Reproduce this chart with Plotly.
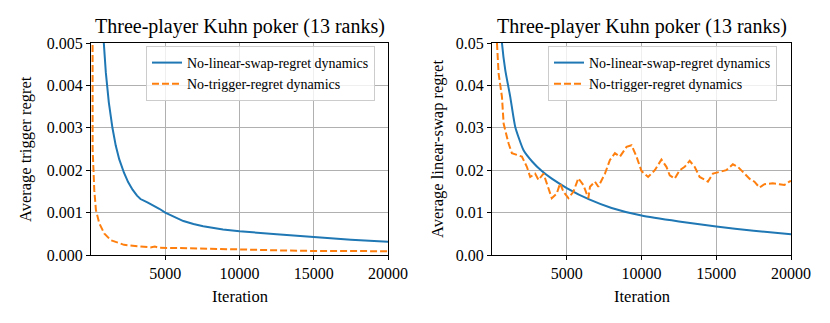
import plotly.graph_objects as go

# ---- data ----
left_blue_x = [1, 200, 400, 600, 700, 844, 1000, 1200, 1444, 1667, 1900, 2222, 2500, 2800, 3100, 3333, 3800, 4222, 4600, 5000, 5600, 6222, 6900, 7556, 8889, 10000, 12500, 15000, 17500, 20000]
left_blue_y = [0.06, 0.021, 0.0107, 0.0072, 0.0061, 0.0051, 0.0043, 0.0036, 0.003, 0.00258, 0.00226, 0.00194, 0.00172, 0.00154, 0.0014, 0.00132, 0.00124, 0.00117, 0.00109, 0.001, 0.0009, 0.0008, 0.00073, 0.00068, 0.0006, 0.00056, 0.00049, 0.00042, 0.00036, 0.00031]

left_orange_x = [1, 60, 90, 111, 222, 333, 556, 889, 1333, 2222, 3333, 4000, 4300, 4600, 6667, 8500, 10000, 12500, 15000, 17500, 20000]
left_orange_y = [0.1, 0.012, 0.006, 0.0025, 0.00153, 0.00106, 0.00075, 0.00051, 0.00035, 0.00024, 0.0002, 0.00018, 0.0002, 0.00017, 0.00016, 0.00014, 0.00012, 0.00011, 0.000095, 0.00009, 0.00009]

right_blue_x = [1, 300, 500, 667, 889, 1222, 1556, 2111, 2700, 3333, 4000, 5000, 6500, 8000, 10000, 12500, 15000, 17500, 20000]
right_blue_y = [0.3, 0.09, 0.06, 0.05, 0.0436, 0.0373, 0.0302, 0.0247, 0.022, 0.0198, 0.018, 0.0158, 0.0131, 0.0111, 0.0093, 0.0079, 0.0067, 0.0057, 0.0049]

right_orange_x = [1, 200, 333, 444, 667, 778, 889, 1111, 1333, 1667, 2000, 2333, 2556, 2889, 3111, 3444, 3667, 4000, 4333, 4556, 4778, 5111, 5444, 5778, 6111, 6444, 6556, 6889, 7111, 7556, 7889, 8222, 8556, 9000, 9333, 9667, 10000, 10444, 10889, 11333, 11667, 11889, 12222, 12556, 12889, 13222, 13556, 13889, 14222, 14444, 14778, 15222, 15667, 16111, 16444, 16778, 17222, 17556, 17889, 18222, 18778, 19222, 19556, 19889, 20000]
right_orange_y = [0.3, 0.08, 0.05, 0.0428, 0.0373, 0.031, 0.0294, 0.0263, 0.024, 0.0236, 0.0232, 0.0208, 0.0184, 0.0192, 0.0177, 0.0192, 0.0169, 0.0134, 0.0145, 0.0169, 0.0149, 0.0134, 0.0149, 0.0181, 0.0165, 0.0134, 0.0161, 0.0173, 0.0161, 0.0192, 0.0224, 0.024, 0.0232, 0.0255, 0.0259, 0.0232, 0.0198, 0.0184, 0.02, 0.0225, 0.0208, 0.0188, 0.018, 0.02, 0.0208, 0.0222, 0.0208, 0.0184, 0.0178, 0.0173, 0.0192, 0.0196, 0.02, 0.0214, 0.0208, 0.0196, 0.018, 0.0173, 0.0159, 0.0167, 0.0169, 0.0167, 0.0165, 0.0173, 0.0175]

series_names = ["No-linear-swap-regret dynamics", "No-trigger-regret dynamics"]
title_text = "Three-player Kuhn poker (13 ranks)"
x_title = "Iteration"
y_titles = ["Average trigger regret", "Average linear-swap regret"]
x_ticks = [5000, 10000, 15000, 20000]
x_tick_text = ["5000", "10000", "15000", "20000"]
left_y_ticks = [0.0, 0.001, 0.002, 0.003, 0.004, 0.005]
right_y_ticks = [0.0, 0.01, 0.02, 0.03, 0.04, 0.05]

BLUE = "#1f77b4"
ORANGE = "#ff7f0e"
FONT = "Liberation Serif, Times New Roman, Times, serif"
W, H = 830, 323

fig = go.Figure()
fig.add_trace(go.Scatter(x=left_blue_x, y=left_blue_y, mode="lines", name=series_names[0],
                         line=dict(color=BLUE, width=2), xaxis="x", yaxis="y", legend="legend"))
fig.add_trace(go.Scatter(x=left_orange_x, y=left_orange_y, mode="lines", name=series_names[1],
                         line=dict(color=ORANGE, width=2, dash="7px,3px"), xaxis="x", yaxis="y", legend="legend"))
fig.add_trace(go.Scatter(x=right_blue_x, y=right_blue_y, mode="lines", name=series_names[0],
                         line=dict(color=BLUE, width=2, shape="spline", smoothing=0.5), xaxis="x2", yaxis="y2", legend="legend2"))
fig.add_trace(go.Scatter(x=right_orange_x, y=right_orange_y, mode="lines", name=series_names[1],
                         line=dict(color=ORANGE, width=2, dash="7px,3px"), xaxis="x2", yaxis="y2", legend="legend2"))

def px_x(p):
    return p / W

def px_y(p):
    return 1 - p / H

ydom = [px_y(255), px_y(43)]
axis_common = dict(showgrid=True, gridcolor="#b0b0b0", gridwidth=1, showline=True, linecolor="black",
                   linewidth=1.2, mirror=True, ticks="outside", ticklen=4, tickcolor="black",
                   tickfont=dict(family=FONT, size=16, color="black"), zeroline=False, automargin=False)

legend_common = dict(xanchor="left", yanchor="top", bgcolor="rgba(255,255,255,0.8)",
                     bordercolor="#cccccc", borderwidth=1, font=dict(family=FONT, size=14, color="black"),
                     tracegroupgap=0, itemwidth=30)

fig.update_layout(
    width=W, height=H, margin=dict(l=0, r=0, t=0, b=0, pad=0, autoexpand=False),
    paper_bgcolor="white", plot_bgcolor="white",
    font=dict(family=FONT, color="black"),
    xaxis=dict(domain=[px_x(91), px_x(388)], range=[1, 20000], tickvals=x_ticks, ticktext=x_tick_text, anchor="y", **axis_common),
    yaxis=dict(domain=ydom, range=[0, 0.005], tickvals=left_y_ticks, tickformat=".3f", anchor="x", **axis_common),
    xaxis2=dict(domain=[px_x(492), px_x(791)], range=[1, 20000], tickvals=x_ticks, ticktext=x_tick_text, anchor="y2", **axis_common),
    yaxis2=dict(domain=ydom, range=[0, 0.05], tickvals=right_y_ticks, tickformat=".2f", anchor="x2", **axis_common),
    legend=dict(x=px_x(146), y=px_y(46), **legend_common),
    legend2=dict(x=px_x(548), y=px_y(46), **legend_common),
    showlegend=True,
)

anns = []
for cx in [(91 + 388) / 2, (492 + 791) / 2]:
    anns.append(dict(text=title_text, x=px_x(cx), y=px_y(27), xref="paper", yref="paper",
                     xanchor="center", yanchor="middle", showarrow=False,
                     font=dict(family=FONT, size=20, color="black")))
    anns.append(dict(text=x_title, x=px_x(cx), y=px_y(296), xref="paper", yref="paper",
                     xanchor="center", yanchor="middle", showarrow=False,
                     font=dict(family=FONT, size=16.5, color="black")))
for cx, t in zip([25, 437], y_titles):
    anns.append(dict(text=t, x=px_x(cx), y=px_y(149), xref="paper", yref="paper", textangle=-90,
                     xanchor="center", yanchor="middle", showarrow=False,
                     font=dict(family=FONT, size=16.5, color="black")))
fig.update_layout(annotations=anns)

fig.write_html("out.html", config={"displayModeBar": False},
               post_script="document.body.style.margin='0';document.body.style.overflow='hidden';")
